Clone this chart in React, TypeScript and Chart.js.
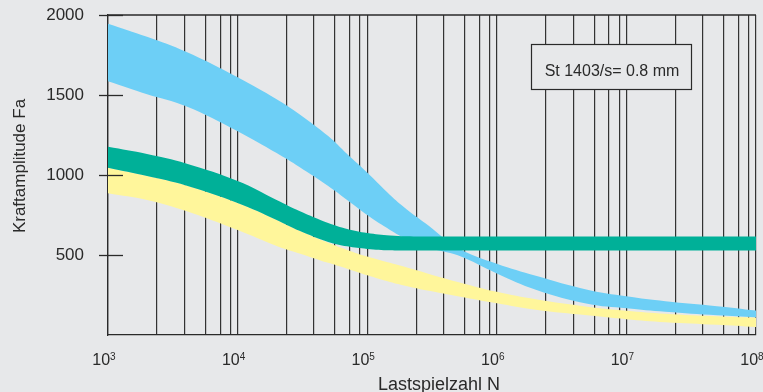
import { useEffect, useRef } from 'react';
import { Chart, registerables } from 'chart.js';

Chart.register(...registerables);

// ---- data ----
const cycles = [1e3, 2e3, 4e3, 1e4, 2e4, 3e4, 5e4, 7e4, 1e5, 1.5e5, 2e5, 3e5, 5e5, 1e6, 2e6, 5e6, 1e7, 2e7, 5e7, 1e8];
const blueUpper = [1946, 1864, 1770, 1611, 1474, 1380, 1243, 1131, 1015, 875, 788, 682, 544, 445, 370, 283, 242, 211, 180, 153];
const blueLower = [1586, 1505, 1430, 1274, 1137, 1050, 931, 844, 750, 657, 601, 544, 498, 385, 283, 195, 167, 145, 123, 110];
const greenUpper = [1176, 1131, 1072, 962, 844, 775, 700, 663, 638, 622, 617, 616, 616, 616, 616, 616, 616, 616, 616, 616];
const greenLower = [1045, 993, 934, 825, 719, 651, 582, 554, 538, 529, 528, 528, 528, 528, 528, 528, 528, 528, 528, 528];
const yellowUpper = [1045, 993, 934, 825, 719, 651, 576, 532, 491, 451, 423, 382, 332, 270, 223, 177, 152, 133, 117, 108];
const yellowLower = [886, 844, 775, 656, 557, 510, 451, 414, 373, 332, 307, 276, 242, 198, 158, 123, 99, 80, 64, 50];

const yTicks = [500, 1000, 1500, 2000];
const decadeTicks = [1e3, 1e4, 1e5, 1e6, 1e7, 1e8];
const decadeBase = '10';
const decadeExponents = ['3', '4', '5', '6', '7', '8'];
// intermediate vertical grid lines inside each decade (fraction of a decade, as drawn in the reference)
const gridFractions = [0.378, 0.59, 0.752, 0.866, 0.945];

const xTitle = 'Lastspielzahl N';
const yTitle = 'Kraftamplitude Fa';
const noteText = 'St 1403/s= 0.8 mm';

const BLUE = '#6dcff6';
const GREEN = '#00b098';
const YELLOW = '#fff69b';
const BG = '#e7e8ea';
const INK = '#2a2a2a';
const FONT = '"Liberation Sans", Arial, sans-serif';

const pts = (vals: number[]) => cycles.map((c, i) => ({ x: c, y: vals[i] }));

const gridValues: number[] = (() => {
  const out: number[] = [];
  for (let d = 3; d < 8; d++) {
    out.push(Math.pow(10, d));
    gridFractions.forEach((f) => out.push(Math.pow(10, d + f)));
  }
  out.push(1e8);
  return out;
})();

const decorPlugin = {
  id: 'decor',
  beforeDraw(chart: any) {
    const ctx = chart.ctx;
    ctx.save();
    ctx.fillStyle = BG;
    ctx.fillRect(0, 0, chart.width, chart.height);
    ctx.restore();
  },
  afterDraw(chart: any) {
    const ctx = chart.ctx;
    const { left, right, top } = chart.chartArea;
    const xs = chart.scales.x;
    const ys = chart.scales.y;
    ctx.save();
    ctx.strokeStyle = INK;
    ctx.lineWidth = 1.3;
    // top border
    ctx.beginPath();
    ctx.moveTo(left, top);
    ctx.lineTo(right, top);
    ctx.stroke();
    // y tick marks crossing the axis
    yTicks.forEach((v) => {
      const py = Math.round(ys.getPixelForValue(v)) + 0.5;
      ctx.beginPath();
      ctx.moveTo(left - 9, py);
      ctx.lineTo(left + 15, py);
      ctx.stroke();
    });
    // x decade labels with superscripts
    ctx.fillStyle = INK;
    ctx.textBaseline = 'alphabetic';
    decadeTicks.forEach((v, i) => {
      const px = xs.getPixelForValue(v) - 4;
      ctx.font = `16px ${FONT}`;
      const wb = ctx.measureText(decadeBase).width;
      ctx.font = `10px ${FONT}`;
      const we = ctx.measureText(decadeExponents[i]).width;
      const x0 = px - (wb + we) / 2;
      ctx.font = `16px ${FONT}`;
      ctx.textAlign = 'left';
      ctx.fillText(decadeBase, x0, 365);
      ctx.font = `10px ${FONT}`;
      ctx.fillText(decadeExponents[i], x0 + wb, 360);
    });
    // axis titles
    ctx.font = `18px ${FONT}`;
    ctx.textAlign = 'center';
    ctx.textBaseline = 'alphabetic';
    ctx.fillText(xTitle, 439, 390);
    ctx.save();
    ctx.translate(25, 166);
    ctx.rotate(-Math.PI / 2);
    ctx.font = `17px ${FONT}`;
    ctx.fillText(yTitle, 0, 0);
    ctx.restore();
    // note box
    const bx = 531, by = 44, bw = 160, bh = 45;
    ctx.fillStyle = BG;
    ctx.fillRect(bx, by, bw, bh);
    ctx.lineWidth = 1.2;
    ctx.strokeRect(bx + 0.5, by + 0.5, bw, bh);
    ctx.fillStyle = INK;
    ctx.font = `16px ${FONT}`;
    ctx.textAlign = 'center';
    ctx.fillText(noteText, bx + bw / 2 + 1, 76);
    ctx.restore();
  },
};

export default function App() {
  const ref = useRef<HTMLCanvasElement | null>(null);
  useEffect(() => {
    document.body.style.margin = '0';
    document.body.style.background = BG;
    const band = (lower: number[], upper: number[], color: string, order: number) => [
      {
        data: pts(lower),
        borderWidth: 0,
        pointRadius: 0,
        tension: 0.4,
        fill: false,
        order,
        borderColor: color,
        backgroundColor: color,
      },
      {
        data: pts(upper),
        borderWidth: 0,
        pointRadius: 0,
        tension: 0.4,
        fill: '-1',
        order,
        borderColor: color,
        backgroundColor: color,
      },
    ];
    const chart = new Chart(ref.current as HTMLCanvasElement, {
      type: 'line',
      data: {
        datasets: [
          ...band(blueLower, blueUpper, BLUE, 3),
          ...band(yellowLower, yellowUpper, YELLOW, 2),
          ...band(greenLower, greenUpper, GREEN, 1),
        ] as any,
      },
      options: {
        responsive: false,
        animation: false,
        devicePixelRatio: 1,
        layout: { padding: { top: 15, right: 7, left: 0, bottom: 0 } },
        plugins: { legend: { display: false }, tooltip: { enabled: false } },
        scales: {
          x: {
            type: 'logarithmic',
            min: 1e3,
            max: 1e8,
            afterBuildTicks: (s: any) => {
              s.ticks = gridValues.map((v) => ({ value: v }));
            },
            ticks: { display: false },
            grid: { color: '#333', lineWidth: 1.2, drawTicks: false, tickLength: 0 },
            border: { display: true, color: INK, width: 1.3 },
            afterFit: (s: any) => {
              s.height = 57;
              s.paddingLeft = 0;
              s.paddingRight = 0;
            },
          },
          y: {
            type: 'linear',
            min: 0,
            max: 2000,
            afterBuildTicks: (s: any) => {
              s.ticks = yTicks.map((v) => ({ value: v }));
            },
            ticks: {
              padding: 24,
              color: INK,
              font: { family: FONT, size: 17 },
              callback: (v: any) => String(v),
            },
            grid: { display: false, drawTicks: false, tickLength: 0 },
            border: { display: true, color: INK, width: 1.3 },
            afterFit: (s: any) => {
              s.width = 108;
              s.paddingTop = 0;
              s.paddingBottom = 0;
            },
          },
        },
      } as any,
      plugins: [decorPlugin],
    });
    return () => chart.destroy();
  }, []);
  return <canvas ref={ref} width={763} height={392} style={{ display: 'block' }} />;
}
